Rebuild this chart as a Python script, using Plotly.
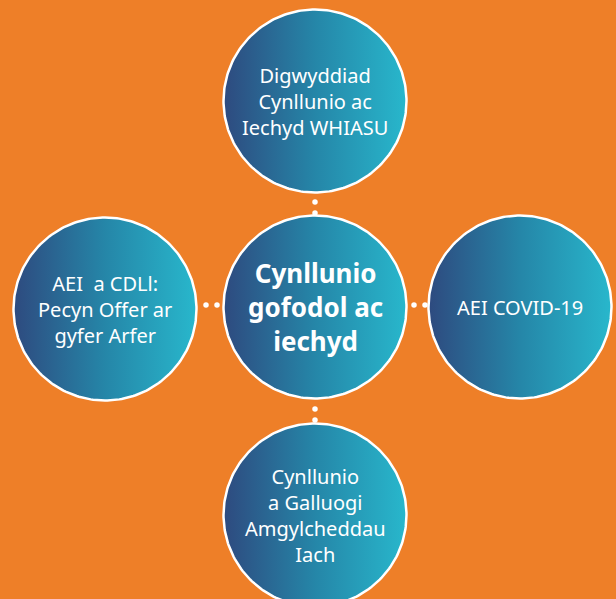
import numpy as np
import plotly.graph_objects as go

# Diagram content
labels = [
    "Cynllunio<br>gofodol ac<br>iechyd",
    "Digwyddiad<br>Cynllunio ac<br>Iechyd WHIASU",
    "AEI  a CDLl:<br>Pecyn Offer ar<br>gyfer Arfer",
    "AEI COVID-19",
    "Cynllunio<br>a Galluogi<br>Amgylcheddau<br>Iach",
]
is_hub = [True, False, False, False, False]

# Layout (pixel coordinates of node centres)
node_x = [315, 315, 105, 520, 315]
node_y = [307, 101, 309, 307, 515]
R = 91.5

# connector dots
dot_x = [315, 315, 206, 217, 414, 425, 315, 315]
dot_y = [202, 213, 305, 305, 305, 305, 409, 420]

ORANGE = "#EE7F28"
fig = go.Figure()

t = np.linspace(0, 2 * np.pi, 241)
for cx, cy in zip(node_x, node_y):
    fig.add_trace(go.Scatter(
        x=cx + R * np.cos(t), y=cy + R * np.sin(t),
        mode="lines", fill="toself",
        line=dict(color="white", width=2.5),
        fillgradient=dict(type="horizontal",
                          colorscale=[[0, "#2E4A7F"], [0.5, "#2586A8"], [1, "#28B7CC"]]),
        hoverinfo="skip", showlegend=False,
    ))

fig.add_trace(go.Scatter(
    x=dot_x, y=dot_y, mode="markers",
    marker=dict(color="white", size=5.5, line=dict(width=0)),
    hoverinfo="skip", showlegend=False,
))

for lab, cx, cy, hub in zip(labels, node_x, node_y, is_hub):
    fig.add_annotation(
        x=cx, y=cy, text=(f"<b>{lab}</b>" if hub else lab),
        showarrow=False, xanchor="center", yanchor="middle", align="center",
        font=dict(family="Noto Sans, Open Sans, sans-serif",
                  size=26 if hub else 20, color="white"),
    )

fig.update_layout(
    width=616, height=599,
    margin=dict(l=0, r=0, t=0, b=0),
    paper_bgcolor=ORANGE, plot_bgcolor=ORANGE,
    xaxis=dict(range=[0, 616], visible=False, fixedrange=True),
    yaxis=dict(range=[599, 0], visible=False, fixedrange=True),
    showlegend=False,
)

fig.write_html(
    "out.html",
    config={"displayModeBar": False},
    post_script="document.body.style.margin='0';document.body.style.background='%s';" % ORANGE,
)
